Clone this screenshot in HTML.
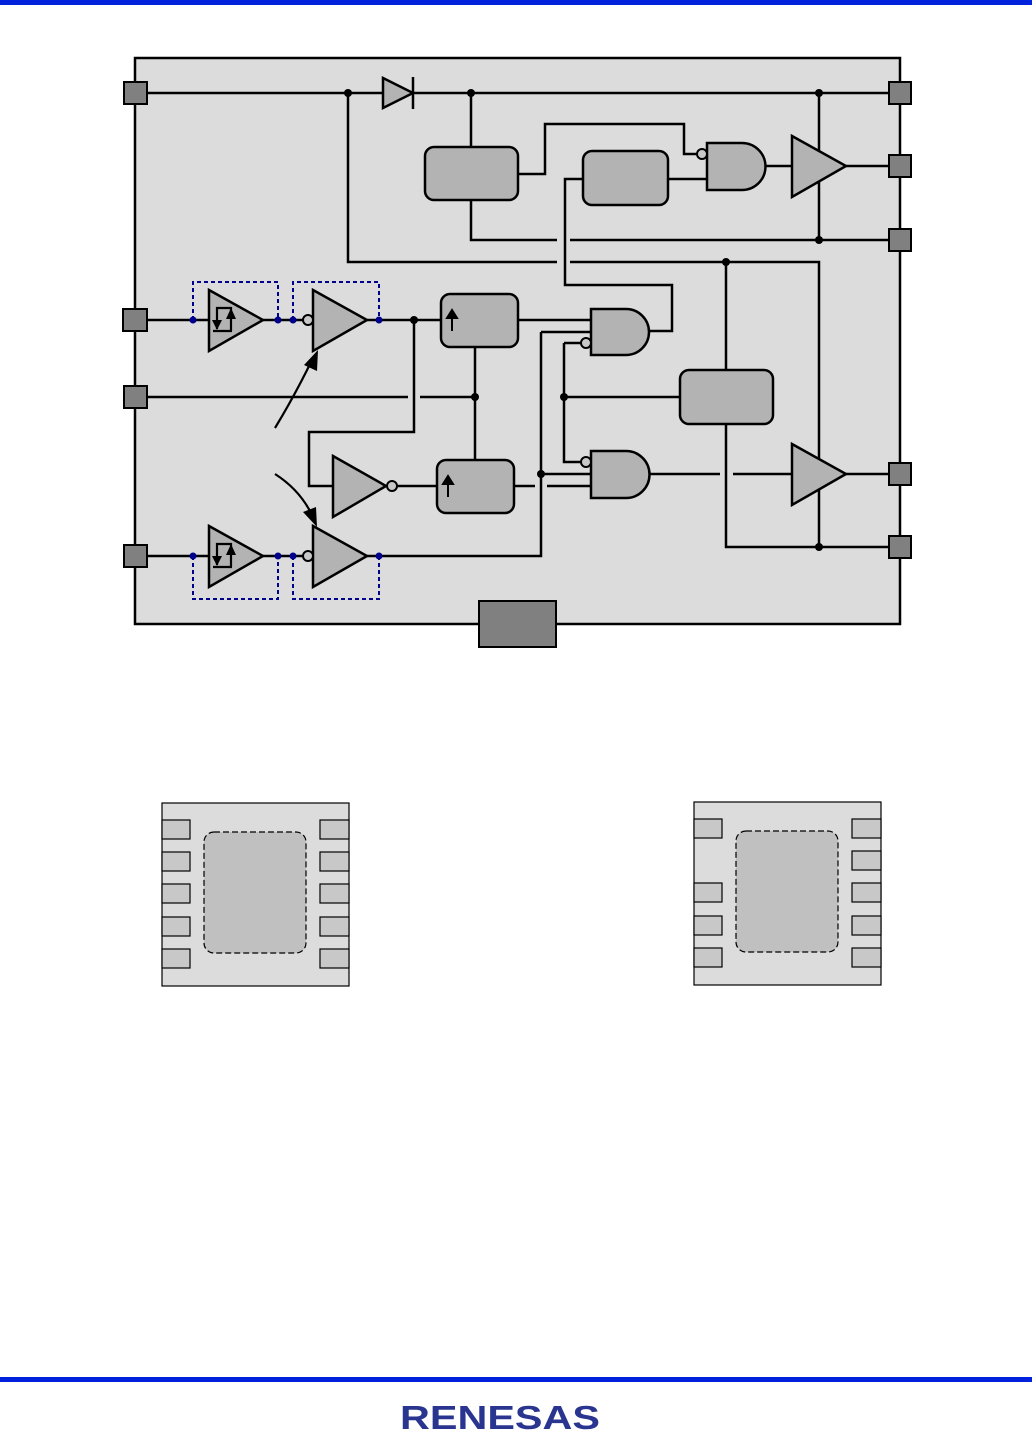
<!DOCTYPE html>
<html><head><style>body{margin:0;background:#fff}svg{display:block}</style></head>
<body>
<svg width="1032" height="1437" viewBox="0 0 1032 1437" xmlns="http://www.w3.org/2000/svg">
<rect x="0" y="0" width="1032" height="5" fill="#0022dd"/>
<rect x="0" y="1377" width="1032" height="5" fill="#0022dd"/>
<text x="400" y="1429" font-family="Liberation Sans, sans-serif" font-size="33" font-weight="bold" fill="#2a3590" textLength="200" lengthAdjust="spacingAndGlyphs">RENESAS</text>

<rect x="135" y="58" width="765" height="566" fill="#dcdcdc" stroke="#000" stroke-width="2.5"/>
<g stroke="#000" stroke-width="2.5" fill="none">
<path d="M147 93H889"/>
<path d="M348 93V262H557M570 262H819V547M726 262V370M726 424V547H889"/>
<path d="M471 93V147M471 200V240H557M570 240H889"/>
<path d="M819 93V240"/>
<path d="M518 174H545V124H684V154H698"/>
<path d="M668 179H707"/>
<path d="M765 166H792M846 166H889"/>
<path d="M583 179H565V285H672V331H649"/>
<path d="M147 320H590"/>
<path d="M414 320V432H309V486H333"/>
<path d="M397 486H437M514 486H535M547 486H591"/>
<path d="M475 347V460"/>
<path d="M147 397H408M420 397H475M564 397H680"/>
<path d="M541 332H591M541 332V556H367M541 474H591"/>
<path d="M564 343H581M564 343V462H581"/>
<path d="M649 474H720M733 474H792M846 474H889"/>
<path d="M147 556H313"/>
</g>
<g fill="#000">
<circle cx="348" cy="93" r="4"/><circle cx="471" cy="93" r="4"/><circle cx="819" cy="93" r="4"/>
<circle cx="819" cy="240" r="4"/><circle cx="726" cy="262" r="4"/><circle cx="819" cy="547" r="4"/>
<circle cx="414" cy="320" r="4"/><circle cx="475" cy="397" r="4"/><circle cx="564" cy="397" r="4"/><circle cx="541" cy="474" r="4"/>
</g>
<path d="M383 78L413 93L383 108Z" fill="#b3b3b3" stroke="#000" stroke-width="2.5"/>
<path d="M413 77V109" stroke="#000" stroke-width="2.5"/>
<g fill="#b3b3b3" stroke="#000" stroke-width="2.5">
<rect x="425" y="147" width="93" height="53" rx="9"/>
<rect x="583" y="151" width="85" height="54" rx="9"/>
<rect x="441" y="294" width="77" height="53" rx="9"/>
<rect x="437" y="460" width="77" height="53" rx="9"/>
<rect x="680" y="370" width="93" height="54" rx="9"/>
<path d="M707 143H742A23.5 23.5 0 0 1 742 190H707Z"/>
<path d="M591 309H626A23 23 0 0 1 626 355H591Z"/>
<path d="M591 451H626A23.5 23.5 0 0 1 626 498H591Z"/>
<path d="M792 136L846 166L792 197Z"/>
<path d="M792 444L846 474L792 505Z"/>
<path d="M209 290L263 320L209 351Z"/>
<path d="M313 290L367 320L313 351Z"/>
<path d="M209 526L263 556L209 587Z"/>
<path d="M313 526L367 556L313 587Z"/>
<path d="M333 456L386 486L333 517Z"/>
</g>
<g fill="#c8c8c8" stroke="#000" stroke-width="2">
<circle cx="702" cy="154" r="5"/><circle cx="586" cy="343" r="5"/><circle cx="586" cy="462" r="5"/>
<circle cx="308" cy="320" r="5"/><circle cx="308" cy="556" r="5"/><circle cx="392" cy="486" r="5"/>
</g>
<g stroke="#000" stroke-width="2" fill="#000">
<path d="M452 331V316" /><path d="M447 318L452 310L457 318Z"/>
<path d="M448 497V482"/><path d="M443 484L448 476L453 484Z"/>
</g>
<g stroke="#000" stroke-width="2.2" fill="none">
<path d="M232 331H213M217 329V308H231V331"/>
<path d="M232 567H213M217 565V544H231V567"/>
</g>
<g fill="#000"><path d="M212 320L217 330L222 320Z"/><path d="M226 319L231 308L236 319Z"/>
<path d="M212 556L217 566L222 556Z"/><path d="M226 555L231 544L236 555Z"/></g>
<g stroke="#00008b" stroke-width="2" stroke-dasharray="4,3" fill="none">
<path d="M193 320V282H278V320"/><path d="M293 320V282H379V320"/>
<path d="M193 556V599H278V556"/><path d="M293 556V599H379V556"/>
</g>
<g fill="#00008b">
<circle cx="193" cy="320" r="3.5"/><circle cx="278" cy="320" r="3.5"/><circle cx="293" cy="320" r="3.5"/><circle cx="379" cy="320" r="3.5"/>
<circle cx="193" cy="556" r="3.5"/><circle cx="278" cy="556" r="3.5"/><circle cx="293" cy="556" r="3.5"/><circle cx="379" cy="556" r="3.5"/>
</g>
<g stroke="#000" stroke-width="2.2" fill="none">
<path d="M275 428Q295 395 312 360"/><path d="M275 474Q300 490 312 515"/>
</g>
<g fill="#000"><path d="M304 365L318 350L317 371Z"/><path d="M303 512L317 527L316 507Z"/></g>
<g fill="#808080" stroke="#000" stroke-width="2">
<rect x="124" y="82" width="23" height="22"/><rect x="123" y="309" width="24" height="22"/>
<rect x="124" y="386" width="23" height="22"/><rect x="124" y="545" width="23" height="22"/>
<rect x="889" y="82" width="22" height="22"/><rect x="889" y="155" width="22" height="22"/>
<rect x="889" y="229" width="22" height="22"/><rect x="889" y="463" width="22" height="22"/>
<rect x="889" y="536" width="22" height="22"/>
<rect x="479" y="601" width="77" height="46"/>
</g>
<g stroke="#000" stroke-width="1.2">
<rect x="162" y="803" width="187" height="183" fill="#dcdcdc"/>
<rect x="204" y="832" width="102" height="121" rx="10" fill="#c0c0c0" stroke-dasharray="6,3"/>
<g fill="#c8c8c8">
<rect x="162" y="820" width="28" height="19"/><rect x="162" y="852" width="28" height="19"/><rect x="162" y="884" width="28" height="19"/><rect x="162" y="917" width="28" height="19"/><rect x="162" y="949" width="28" height="19"/>
<rect x="320" y="820" width="29" height="19"/><rect x="320" y="852" width="29" height="19"/><rect x="320" y="884" width="29" height="19"/><rect x="320" y="917" width="29" height="19"/><rect x="320" y="949" width="29" height="19"/>
</g>
<rect x="694" y="802" width="187" height="183" fill="#dcdcdc"/>
<rect x="736" y="831" width="102" height="121" rx="10" fill="#c0c0c0" stroke-dasharray="6,3"/>
<g fill="#c8c8c8">
<rect x="694" y="819" width="28" height="19"/><rect x="694" y="883" width="28" height="19"/><rect x="694" y="916" width="28" height="19"/><rect x="694" y="948" width="28" height="19"/>
<rect x="852" y="819" width="29" height="19"/><rect x="852" y="851" width="29" height="19"/><rect x="852" y="883" width="29" height="19"/><rect x="852" y="916" width="29" height="19"/><rect x="852" y="948" width="29" height="19"/>
</g>
</g>
</svg>
</body></html>
